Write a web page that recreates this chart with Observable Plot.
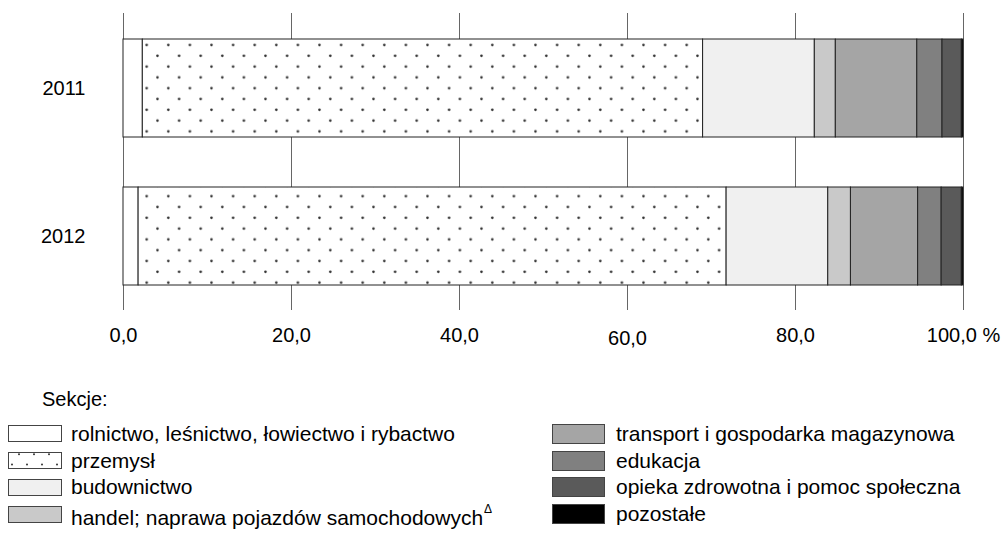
<!DOCTYPE html>
<html>
<head>
<meta charset="utf-8">
<script src="https://cdn.jsdelivr.net/npm/d3@7"></script>
<script src="https://cdn.jsdelivr.net/npm/@observablehq/plot@0.6"></script>
<style>
  html, body { margin: 0; padding: 0; background: #fff; }
  #wrap { position: relative; width: 1005px; height: 536px; font-family: "Liberation Sans", Arial, sans-serif; color: #000; }
  #chart { position: absolute; left: 0; top: 0; }
  .lg-title { position: absolute; font-size: 20px; line-height: 20px; white-space: nowrap; }
  .lg-box { position: absolute; box-sizing: border-box; border: 1px solid #444; }
  .lg-text { position: absolute; font-size: 21px; line-height: 21px; white-space: nowrap; }
  .lg-text sup { font-size: 12px; position: relative; top: -4px; margin-left: 1px; }
</style>
</head>
<body>
<div id="wrap"><div id="chart"></div></div>
<script>
// ---- data ----
const years = ["2011", "2012"];
const sectors = [
  "rolnictwo, leśnictwo, łowiectwo i rybactwo",
  "przemysł",
  "budownictwo",
  "handel; naprawa pojazdów samochodowych",
  "transport i gospodarka magazynowa",
  "edukacja",
  "opieka zdrowotna i pomoc społeczna",
  "pozostałe"
];
const sectorNotes = ["", "", "", "Δ", "", "", "", ""];
const values2011 = [2.3, 66.7, 13.3, 2.5, 9.7, 3.0, 2.3, 0.2];
const values2012 = [1.8, 70.0, 12.1, 2.7, 8.0, 2.8, 2.4, 0.2];
const tickValues = [0, 20, 40, 60, 80, 100];
const tickLabels = ["0,0", "20,0", "40,0", "60,0", "80,0", "100,0 %"];
const legendTitle = "Sekcje:";

// ---- styles ----
const fills = ["#ffffff", "url(#dots)", "#f0f0f0", "#c9c9c9", "#a5a5a5", "#808080", "#5a5a5a", "#000000"];
const font = "Liberation Sans, Arial, sans-serif";

const seriesByYear = {"2011": values2011, "2012": values2012};
const data = years.flatMap(y => sectors.map((s, i) => ({year: y, sector: s, value: seriesByYear[y][i]})));

const defsMark = () => {
  const defs = d3.create("svg:defs");
  const p = defs.append("pattern")
    .attr("id", "dots").attr("patternUnits", "userSpaceOnUse")
    .attr("width", 21.6).attr("height", 21.6);
  p.append("rect").attr("width", 21.6).attr("height", 21.6).attr("fill", "#fff");
  p.append("circle").attr("cx", 17.1).attr("cy", 1.8).attr("r", 1.3).attr("fill", "#333");
  p.append("circle").attr("cx", 6.3).attr("cy", 12.6).attr("r", 1.3).attr("fill", "#333");
  return defs.node();
};

const fmt = d => tickLabels[tickValues.indexOf(d)];

const chart = Plot.plot({
  width: 1005,
  height: 360,
  marginLeft: 123,
  marginRight: 42,
  marginTop: 13,
  marginBottom: 50,
  style: {fontFamily: font, fontSize: "20px", color: "#000", background: "transparent"},
  x: {domain: [0, 100]},
  y: {type: "band", domain: years, range: [38, 286], paddingInner: 0.335, paddingOuter: 0},
  color: {type: "ordinal", domain: sectors, range: fills},
  marks: [
    defsMark,
    Plot.ruleX(tickValues, {stroke: "#666", strokeWidth: 1}),
    Plot.barX(data, {x: "value", y: "year", fill: "sector", stroke: "#222", strokeWidth: 1}),
    Plot.axisX(tickValues.filter(t => t !== 60), {tickSize: 0, tickPadding: 17, tickFormat: fmt, fontSize: 20, fill: "#000", label: null}),
    Plot.axisX([60], {tickSize: 0, tickPadding: 20, tickFormat: fmt, fontSize: 20, fill: "#000", label: null}),
    Plot.axisY({tickSize: 0, tickPadding: 38, fontSize: 20, fill: "#000", label: null})
  ]
});
document.getElementById("chart").appendChild(chart);

// ---- legend (HTML, below the SVG) ----
const wrap = document.getElementById("wrap");
const t = document.createElement("div");
t.className = "lg-title";
t.style.left = "42px"; t.style.top = "389px";
t.textContent = legendTitle;
wrap.appendChild(t);

const rowCenters = [433.5, 460.5, 487, 514];
const cols = [{boxX: 8, boxW: 54, boxH: 17, textX: 71}, {boxX: 552, boxW: 53, boxH: 20, textX: 616}];
sectors.forEach((s, i) => {
  const col = cols[Math.floor(i / 4)];
  const cy = rowCenters[i % 4];
  const bh = col.boxH;
  let box;
  if (fills[i].startsWith("url")) {
    box = document.createElement("div");
    box.className = "lg-box";
    box.style.border = "none";
    box.innerHTML = `<svg width="${col.boxW}" height="${bh}" style="display:block">
      <defs><pattern id="dotsL" patternUnits="userSpaceOnUse" width="15" height="20">
        <rect width="15" height="20" fill="#fff"/>
        <circle cx="11" cy="2.3" r="1" fill="#333"/>
        <circle cx="4" cy="12.5" r="1" fill="#333"/>
      </pattern></defs>
      <rect x="0.5" y="0.5" width="${col.boxW - 1}" height="${bh - 1}" fill="url(#dotsL)" stroke="#444"/>
    </svg>`;
  } else {
    box = document.createElement("div");
    box.className = "lg-box";
    box.style.background = fills[i];
  }
  box.style.left = col.boxX + "px";
  box.style.top = (cy - bh / 2) + "px";
  box.style.width = col.boxW + "px";
  box.style.height = bh + "px";
  wrap.appendChild(box);

  const tx = document.createElement("div");
  tx.className = "lg-text";
  tx.style.left = col.textX + "px";
  tx.style.top = (cy - 11) + "px";
  tx.textContent = s;
  if (sectorNotes[i]) {
    const sup = document.createElement("sup");
    sup.textContent = sectorNotes[i];
    tx.appendChild(sup);
  }
  wrap.appendChild(tx);
});
</script>
</body>
</html>
